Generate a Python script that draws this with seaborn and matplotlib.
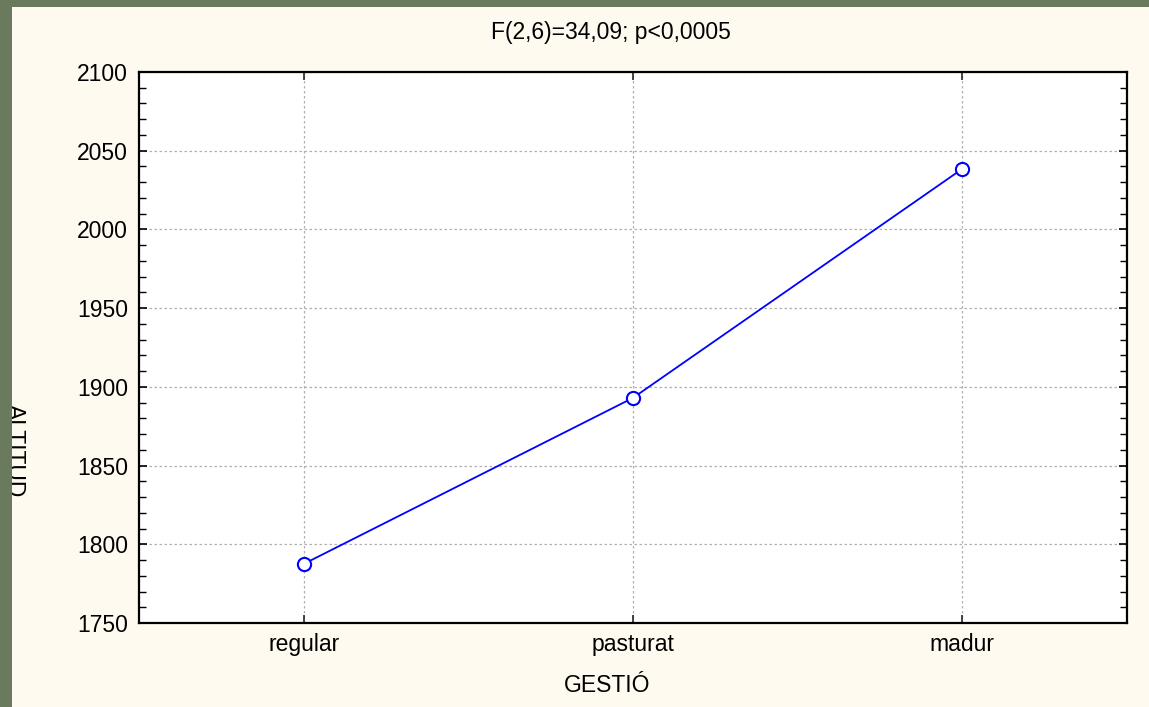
import matplotlib
matplotlib.use("Agg")
import matplotlib.pyplot as plt
import seaborn as sns
import pandas as pd
from matplotlib.patches import Rectangle
from matplotlib.ticker import MultipleLocator

categories = ["regular", "pasturat", "madur"]
altitud = [1787.5, 1893.0, 2038.5]
title_text = "F(2,6)=34,09; p<0,0005"

sns.set_style("white")
plt.rcParams['font.family'] = ['Liberation Sans', 'DejaVu Sans']

W, H = 1149, 707
fig = plt.figure(figsize=(W / 100, H / 100), dpi=100)
green = "#6a7a5c"
cream = "#fefaf0"
fig.patch.set_facecolor(green)
fig.patches.append(Rectangle((12 / W, 0), 1 - 12 / W, 1 - 7 / H, transform=fig.transFigure,
                             facecolor=cream, edgecolor="none", zorder=-2))
fig.patches.append(Rectangle((0, 0), 12 / W, 1, transform=fig.transFigure,
                             facecolor=green, edgecolor="none", zorder=10))

left, right, top, bottom = 139, 1127, 72, 623
ax = fig.add_axes([left / W, 1 - bottom / H, (right - left) / W, (bottom - top) / H])
ax.set_facecolor("white")

df = pd.DataFrame({"GESTIÓ": categories, "ALTITUD": altitud})
sns.lineplot(data=df, x="GESTIÓ", y="ALTITUD", ax=ax, color="blue", lw=1.3,
             marker="o", markersize=9.5, markerfacecolor="white",
             markeredgecolor="blue", markeredgewidth=1.5, zorder=5)

fs = 16.5
ax.set_xlim(-0.5, 2.5)
ax.set_ylim(1750, 2100)
ax.yaxis.set_major_locator(MultipleLocator(50))
ax.yaxis.set_minor_locator(MultipleLocator(10))
ax.grid(True, which="major", color="#b0b0b0", linestyle=(0, (2, 2)), lw=0.9)
ax.set_axisbelow(True)
for s in ax.spines.values():
    s.set_color("black")
    s.set_linewidth(1.6)
ax.tick_params(axis="y", which="both", direction="in", left=True, right=True,
               labelsize=fs, color="black", labelcolor="black")
ax.tick_params(axis="y", which="major", length=6, width=1.2, pad=8)
ax.tick_params(axis="y", which="minor", length=5, width=1.0)
ax.tick_params(axis="x", direction="in", bottom=True, top=True, length=6, width=1.2,
               labelsize=fs, pad=7, labelcolor="black")
ax.set_xlabel("")
ax.set_ylabel("")
fig.text(607 / W, 1 - 686 / H, "GESTIÓ", ha="center", va="center", fontsize=fs,
         color="black")
fig.text(611 / W, 1 - 33 / H, title_text, ha="center", va="center", fontsize=fs,
         color="black")
fig.text(14 / W, 1 - 451 / H, "ALTITUD", rotation=270, ha="center", va="center",
         fontsize=fs, color="black", zorder=3)

fig.savefig("out.png", dpi=100, facecolor=fig.get_facecolor())
